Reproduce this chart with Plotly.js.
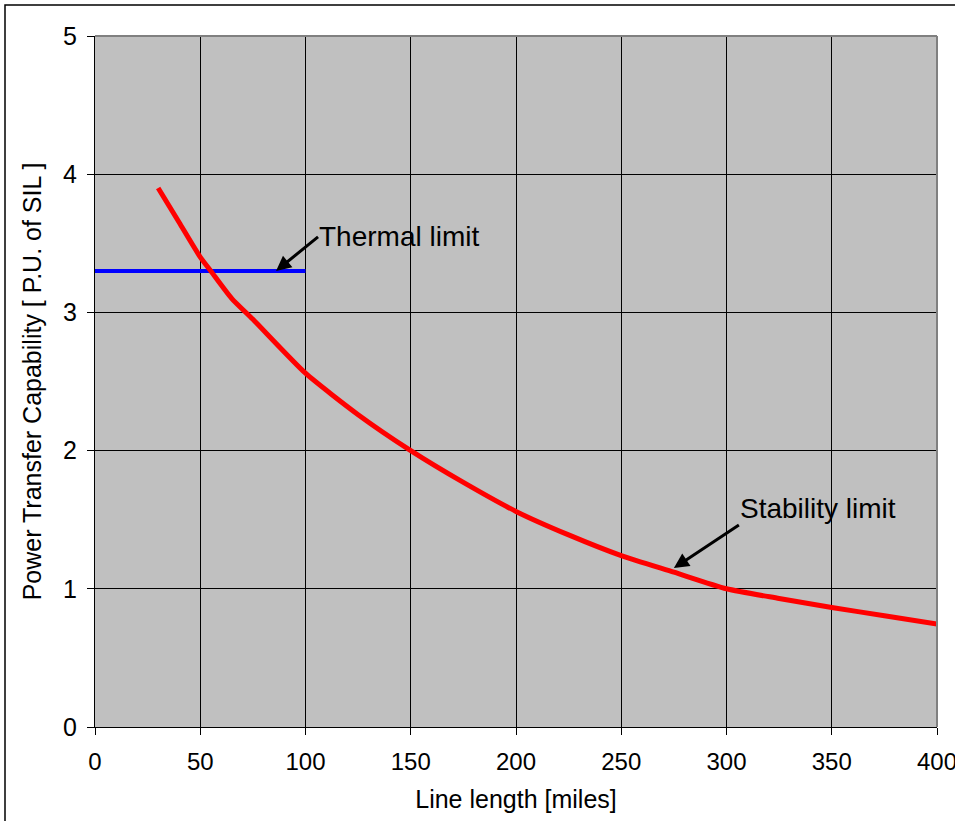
<!DOCTYPE html>
<html>
<head>
<meta charset="utf-8">
<script src="https://cdn.plot.ly/plotly-3.0.1.min.js"></script>
<style>
  html, body { margin: 0; padding: 0; background: #fff; }
  #chart { width: 955px; height: 821px; }
</style>
</head>
<body>
<div id="chart"></div>
<script>
// Stability limit curve (line length in miles vs P.U. of SIL)
const stabilityX = [30, 40, 50, 55, 65, 75, 100, 125, 150, 175, 200, 225, 250, 275, 300, 325, 350, 375, 400];
const stabilityY = [3.90, 3.65, 3.40, 3.30, 3.10, 2.95, 2.56, 2.26, 2.00, 1.77, 1.56, 1.39, 1.24, 1.12, 1.00, 0.93, 0.865, 0.805, 0.745];

// Thermal limit
const thermalX = [0, 100];
const thermalY = [3.3, 3.3];

// Axis ticks
const xTicks = [0, 50, 100, 150, 200, 250, 300, 350, 400];
const yTicks = [0, 1, 2, 3, 4, 5];

// Annotation labels and arrow-head points
const labels = ["Thermal limit", "Stability limit"];
const labelPointX = [86, 275];
const labelPointY = [3.3, 1.15];

const font = "Liberation Sans, Arial, sans-serif";

const traces = [
  {
    x: thermalX, y: thermalY, type: "scatter", mode: "lines",
    line: { color: "#0000FF", width: 4 }, hoverinfo: "skip", showlegend: false
  },
  {
    x: stabilityX, y: stabilityY, type: "scatter", mode: "lines",
    line: { color: "#FF0000", width: 5, shape: "spline", smoothing: 0.6 },
    hoverinfo: "skip", showlegend: false
  }
];

const layout = {
  width: 955, height: 821,
  margin: { l: 95, r: 18, t: 36, b: 94 },
  paper_bgcolor: "#FFFFFF",
  plot_bgcolor: "#C0C0C0",
  font: { family: font, color: "#000", size: 24 },
  showlegend: false,
  xaxis: {
    range: [0, 400], tickvals: xTicks, ticktext: xTicks.map(String),
    showgrid: true, gridcolor: "#000", gridwidth: 1,
    zeroline: false, showline: true, linecolor: "#000", linewidth: 1,
    ticks: "outside", ticklen: 7, tickcolor: "#000",
    ticklabeloverflow: "allow", ticklabelstandoff: 6,
    tickfont: { family: font, size: 24, color: "#000" },
    title: { text: "Line length [miles]", font: { family: font, size: 25, color: "#000" }, standoff: 16 },
    fixedrange: true
  },
  yaxis: {
    range: [0, 5], tickvals: yTicks, ticktext: yTicks.map(String),
    showgrid: true, gridcolor: "#000", gridwidth: 1,
    zeroline: false, showline: true, linecolor: "#000", linewidth: 1,
    ticks: "outside", ticklen: 7, tickcolor: "#000",
    ticklabelstandoff: 5,
    tickfont: { family: font, size: 25, color: "#000" },
    title: { text: "Power Transfer Capability [ P.U. of SIL ]", font: { family: font, size: 25, color: "#000" }, standoff: 14 },
    fixedrange: true
  },
  shapes: [
    { type: "line", xref: "paper", yref: "paper", x0: 0, x1: 1, y0: 1, y1: 1, line: { color: "#808080", width: 2 } },
    { type: "line", xref: "paper", yref: "paper", x0: 1, x1: 1, y0: 0, y1: 1, line: { color: "#808080", width: 2 } },
    { type: "rect", xref: "paper", yref: "paper",
      x0: -90/842, x1: 1.1, y0: -1.35, y1: 1 + 31/691,
      line: { color: "#000", width: 1.5 }, fillcolor: "rgba(0,0,0,0)", layer: "below" }
  ],
  annotations: [
    {
      x: labelPointX[0], y: labelPointY[0], xref: "x", yref: "y",
      text: labels[0], showarrow: true, arrowhead: 2, arrowsize: 1, arrowwidth: 3, arrowcolor: "#000",
      ax: 42, ay: -34, xanchor: "left", yanchor: "middle",
      font: { family: font, size: 28, color: "#000" }, standoff: 0, borderpad: 0
    },
    {
      x: labelPointX[1], y: labelPointY[1], xref: "x", yref: "y",
      text: labels[1], showarrow: true, arrowhead: 2, arrowsize: 1, arrowwidth: 3, arrowcolor: "#000",
      ax: 65, ay: -43, xanchor: "left", yanchor: "bottom",
      font: { family: font, size: 28, color: "#000" }, standoff: 0, borderpad: 0
    }
  ]
};

Plotly.newPlot("chart", traces, layout, { displayModeBar: false, staticPlot: true });
</script>
</body>
</html>
